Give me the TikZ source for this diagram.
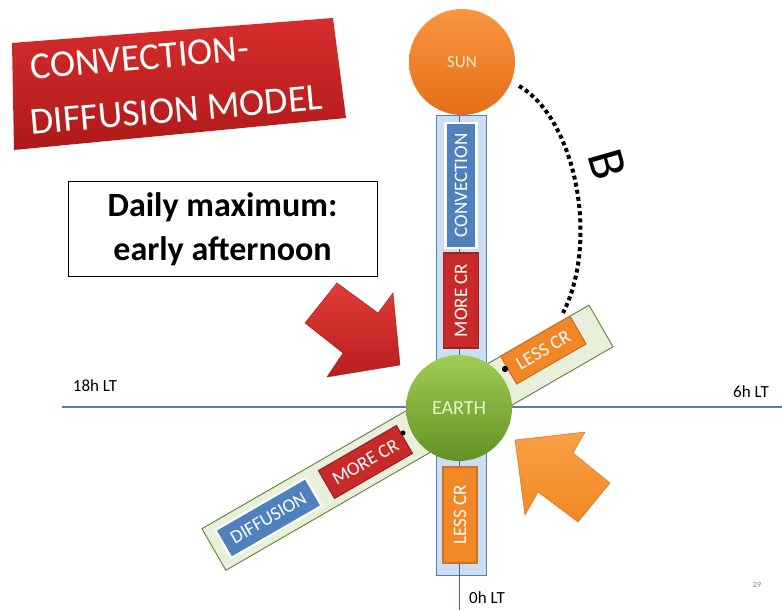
\documentclass[tikz,border=0pt]{standalone}
\usepackage{fontspec}
\setmainfont{Carlito}
\usepackage{tikz}
\usetikzlibrary{calc}

\definecolor{cblue}{RGB}{79,129,189}
\definecolor{clight}{RGB}{205,222,243}
\definecolor{glight}{RGB}{232,240,220}
\definecolor{gline}{RGB}{110,135,70}
\definecolor{cred}{RGB}{200,42,42}
\definecolor{corange}{RGB}{242,135,40}
\definecolor{axisline}{RGB}{95,125,170}

\begin{document}
\begin{tikzpicture}[x=1pt, y=1pt, planet/.style={circle, minimum size=106pt, inner sep=0pt, text=white}, tag/.style={rectangle, draw=white, line width=1.2pt, inner sep=0pt, text=white, font=\fontsize{19}{22}\selectfont}, lt/.style={font=\fontsize{17}{20}\selectfont}, dot/.style={circle, fill=black, inner sep=2.2pt}, b/.style={line width=4pt, dash pattern=on 4pt off 3.2pt}]
                \useasboundingbox (0,0) rectangle (782,612);
                \coordinate (o) at (459,204);
                % bars
                \node[rectangle, draw=cblue, fill=clight, line width=1pt, minimum width=50, minimum height=460] (column) at (461,266) {};
                \node[rectangle, draw=gline, fill=glight, line width=1pt, rotate=30, minimum width=447, minimum height=48] (dbar) at ($(o)+(210:59.5)$) {};
                % axes
                \draw[axisline, line width=1.3pt] (62,205) -- (782,205);
                \draw[cblue!80!black, line width=1pt] (459,496) -- (459,2);
                % boxes
                \node[tag, fill=cblue, line width=2.5pt, rotate=90, minimum width=125, minimum height=31] (conv) at (461,426.5) {CONVECTION};
                \node[tag, fill=cred, draw=cred!80!black, rotate=90, minimum width=95, minimum height=35] (more1) at (461,311.5) {MORE CR};
                \node[tag, fill=corange, draw=corange!85!black, rotate=90, minimum width=96, minimum height=34] (less1) at (460,97) {LESS CR};
                \node[tag, fill=cblue, line width=2pt, rotate=30, minimum width=104, minimum height=32] (diff) at ($(o)+(210:220)$) {DIFFUSION};
                \node[tag, fill=cred, draw=cred!80!black, rotate=30, minimum width=90, minimum height=32] (more2) at ($(o)+(210:108)$) {MORE CR};
                \node[tag, fill=corange, draw=corange!85!black, rotate=30, minimum width=80, minimum height=32] (less2) at ($(o)+(30:102)+(120:8)$) {LESS CR};
                % field line
                \coordinate (bend) at (563,299);
                \draw[b] (519,526) .. controls (575,494) and (600,372) .. (bend);
                \node[rotate=-74, font=\fontsize{52}{52}\selectfont] (bfield) at (607,447) {B};
                % planets
                \node[planet, top color={rgb,255:red,248;green,150;blue,62}, bottom color={rgb,255:red,228;green,110;blue,25}, text={rgb,255:red,255;green,232;blue,205}, font=\fontsize{17}{20}\selectfont] (sun) at (462,550) {SUN};
                \node[planet, top color={rgb,255:red,160;green,205;blue,80}, bottom color={rgb,255:red,100;green,145;blue,40}, text={rgb,255:red,230;green,245;blue,205}, font=\fontsize{20}{24}\selectfont] (earth) at (o) {EARTH};
                \node[dot] (d1) at (505,243) {};
                \node[dot, inner sep=1.8pt] (d2) at (403,179) {};
                % arrows
                \shade[top color={rgb,255:red,225;green,60;blue,55}, bottom color={rgb,255:red,185;green,30;blue,30}, draw=cred!70!black, line width=0.4pt] (305,289) -- (337,329) -- (378,299) -- (393,319) -- (400,247) -- (327,235) -- (343,259) -- cycle;
                \shade[top color={rgb,255:red,250;green,160;blue,70}, bottom color={rgb,255:red,240;green,135;blue,35}, draw=corange!80!black, line width=0.4pt] (515,172) -- (585,180) -- (573,159) -- (610,129) -- (578,90) -- (538,120) -- (525,97) -- cycle;
                % notes
                \node[draw, line width=1pt, fill=white, align=center, minimum width=309, minimum height=95, font=\bfseries\fontsize{34}{44}\selectfont] (note) at (222.5,382.5) {Daily maximum:\\early afternoon};
                \shade[top color={rgb,255:red,215;green,45;blue,45}, bottom color={rgb,255:red,175;green,25;blue,25}] (12,569) -- (333,594) -- (346,494) -- (14,462) -- cycle;
                \node[anchor=base west, rotate=5, text=white, font=\fontsize{38}{44}\selectfont] (title1) at (28,532) {CONVECTION-};
                \node[anchor=base west, rotate=5, text=white, font=\fontsize{38}{44}\selectfont] (title2) at (28,477) {DIFFUSION MODEL};
                % labels
                \node[lt] (lt18) at (95,226) {18h LT};
                \node[lt] (lt6) at (751,220) {6h LT};
                \node[lt] (lt0) at (487,14) {0h LT};
                \node[text=gray, font=\fontsize{8}{9}\selectfont] (page) at (757,27) {29};
            \end{tikzpicture}
\end{document}
